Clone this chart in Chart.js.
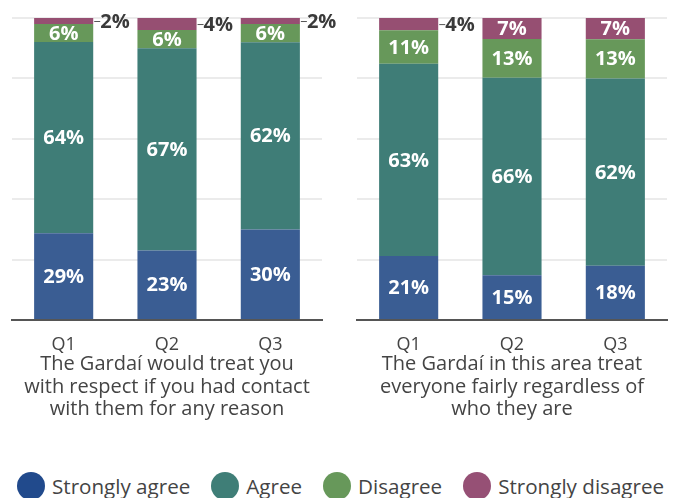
<!DOCTYPE html>
<html>
<head>
<meta charset="utf-8">
<script src="https://cdn.jsdelivr.net/npm/chart.js@4.4.1/dist/chart.umd.min.js"></script>
<style>
  body { margin: 0; background: #fff; font-family: "Open Sans", sans-serif; }
  #wrap { position: relative; width: 674px; height: 498px; overflow: hidden; }
  #left { position: absolute; left: 0; top: 0; }
  #right { position: absolute; left: 340px; top: 0; }
  #legend { position: absolute; left: 17px; top: 472px; display: flex; align-items: center; white-space: nowrap; }
  .item { display: flex; align-items: center; margin-right: 21px; }
  .dot { width: 28px; height: 28px; border-radius: 50%; margin-right: 7px; }
  .lbl { font-size: 20.6px; color: #444; line-height: 28px; }
</style>
</head>
<body>
<div id="wrap">
  <canvas id="left" width="340" height="430"></canvas>
  <canvas id="right" width="334" height="430"></canvas>
  <div id="legend"></div>
</div>
<script>
const categories = ["Q1", "Q2", "Q3"];
const seriesNames = ["Strongly agree", "Agree", "Disagree", "Strongly disagree"];
const barColors = ["#3a5d93", "#3f7d77", "#67985a", "#964f72"];
const legendColors = ["#214a8c", "#3f7e77", "#67985a", "#965075"];

// "The Gardaí would treat you with respect..."
const respectStronglyAgree = [29, 23, 30];
const respectAgree = [64, 67, 62];
const respectDisagree = [6, 6, 6];
const respectStronglyDisagree = [2, 4, 2];

// "The Gardaí in this area treat everyone fairly..."
const fairStronglyAgree = [21, 15, 18];
const fairAgree = [63, 66, 62];
const fairDisagree = [11, 13, 13];
const fairStronglyDisagree = [4, 7, 7];

const respectTitle = ["The Gardaí would treat you", "with respect if you had contact", "with them for any reason"];
const fairTitle = ["The Gardaí in this area treat", "everyone fairly regardless of", "who they are"];

// bars are drawn as share of 100% (published figures are rounded)
function makeDatasets(series) {
  const totals = categories.map((c, i) => series.reduce((a, s) => a + s[i], 0));
  return series.map((s, k) => ({
    label: seriesNames[k],
    data: s.map((v, i) => v / totals[i] * 100),
    raw: s,
    backgroundColor: barColors[k],
    borderWidth: 0,
    categoryPercentage: 1,
    barPercentage: 0.572
  }));
}

const valueLabels = {
  id: "valueLabels",
  afterDatasetsDraw(chart) {
    const ctx = chart.ctx;
    ctx.save();
    chart.data.datasets.forEach((ds, di) => {
      chart.getDatasetMeta(di).data.forEach((bar, i) => {
        const v = ds.raw[i];
        const mid = (bar.y + bar.base) / 2;
        ctx.font = "bold 20px 'Open Sans'";
        ctx.textBaseline = "middle";
        if (v >= 5) {
          ctx.fillStyle = "#ffffff";
          ctx.textAlign = "center";
          ctx.fillText(v + "%", bar.x, mid + 1);
        } else {
          const x0 = bar.x + bar.width / 2;
          ctx.strokeStyle = "#555";
          ctx.lineWidth = 1;
          ctx.beginPath();
          ctx.moveTo(x0 + 1, mid + 0.5);
          ctx.lineTo(x0 + 7, mid + 0.5);
          ctx.stroke();
          ctx.fillStyle = "#3a3a3a";
          ctx.textAlign = "left";
          ctx.fillText(v + "%", x0 + 7, mid + 1);
        }
      });
    });
    ctx.restore();
  }
};

function makeChart(id, series, title, padLeft, padRight) {
  return new Chart(document.getElementById(id), {
    type: "bar",
    data: { labels: categories, datasets: makeDatasets(series) },
    plugins: [valueLabels],
    options: {
      responsive: false,
      animation: false,
      devicePixelRatio: 1,
      layout: { padding: { left: padLeft, right: padRight, top: 18, bottom: 0 } },
      plugins: { legend: { display: false }, tooltip: { enabled: false } },
      scales: {
        x: {
          stacked: true,
          grid: { display: false, drawTicks: false },
          border: { display: true, color: "#555", width: 2 },
          ticks: { color: "#444", font: { family: "'Open Sans'", size: 18 }, padding: 14 },
          title: {
            display: true,
            text: title,
            color: "#444",
            font: { family: "'Open Sans'", size: 20, lineHeight: 1.13 },
            padding: { top: 0, bottom: 9 }
          },
          afterFit(scale) { scale.height = 110; }
        },
        y: {
          stacked: true,
          min: 0,
          max: 100,
          ticks: { display: false, stepSize: 20 },
          grid: { color: "#ebebeb", lineWidth: 2, drawTicks: false },
          border: { display: false },
          afterFit(scale) { scale.width = 0; }
        }
      }
    }
  });
}

makeChart("left", [respectStronglyAgree, respectAgree, respectDisagree, respectStronglyDisagree], respectTitle, 12, 18);
makeChart("right", [fairStronglyAgree, fairAgree, fairDisagree, fairStronglyDisagree], fairTitle, 17, 7);

const legend = document.getElementById("legend");
seriesNames.forEach((name, k) => {
  const item = document.createElement("div");
  item.className = "item";
  const dot = document.createElement("span");
  dot.className = "dot";
  dot.style.background = legendColors[k];
  const lbl = document.createElement("span");
  lbl.className = "lbl";
  lbl.textContent = name;
  item.appendChild(dot);
  item.appendChild(lbl);
  legend.appendChild(item);
});
</script>
</body>
</html>
